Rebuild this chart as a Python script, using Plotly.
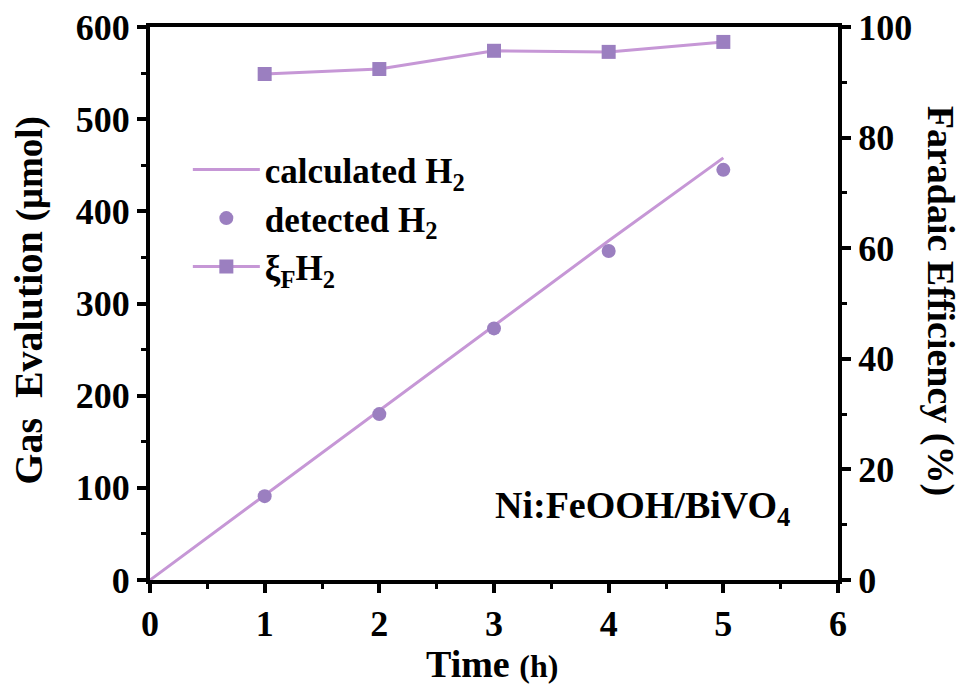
import plotly.graph_objects as go

# Time points (h)
time_calc = [0, 1, 2, 3, 4, 5]
time_meas = [1, 2, 3, 4, 5]

# Gas evolution (umol)
calculated_h2 = [0, 92, 184, 276, 368, 458]
detected_h2 = [91, 180, 273, 357, 445]

# Faradaic efficiency (%)
faradaic_eff = [91.5, 92.4, 95.7, 95.5, 97.3]

FONT = "Liberation Serif"
LINE_C = "#c697d6"
MARK_C = "#9b7fc0"

fig = go.Figure()

fig.add_trace(go.Scatter(
    x=time_calc, y=calculated_h2, mode="lines",
    name="calculated H<sub>2</sub>",
    line=dict(color=LINE_C, width=3),
))
fig.add_trace(go.Scatter(
    x=time_meas, y=detected_h2, mode="markers",
    name="detected H<sub>2</sub>",
    marker=dict(color=MARK_C, size=14, symbol="circle"),
))
fig.add_trace(go.Scatter(
    x=time_meas, y=faradaic_eff, mode="lines+markers",
    name="ξ<sub>F</sub>H<sub>2</sub>", yaxis="y2",
    line=dict(color=LINE_C, width=3),
    marker=dict(color=MARK_C, size=14, symbol="square"),
))

tick_font = dict(family=FONT, size=36, color="black", weight="bold")
title_font = dict(family=FONT, size=38, color="black", weight="bold")

common = dict(
    tickfont=tick_font, showline=True, linecolor="black", linewidth=4,
    ticks="outside", ticklen=9, tickwidth=4, tickcolor="black",
    showgrid=False, zeroline=False, automargin=False,
)

fig.update_layout(
    width=963, height=686,
    margin=dict(l=150, r=125, t=27, b=106),
    paper_bgcolor="white", plot_bgcolor="white",
    font=dict(family=FONT, color="black"),
    showlegend=True,
    legend=dict(
        x=0.055, y=0.795, xanchor="left", yanchor="top",
        bgcolor="rgba(0,0,0,0)",
        font=dict(family=FONT, size=35, color="black", weight="bold"),
        itemwidth=67, tracegroupgap=0,
    ),
    xaxis=dict(
        range=[0, 6], dtick=1, mirror=True,
        minor=dict(dtick=0.5, ticks="outside", ticklen=5, tickwidth=3, tickcolor="black"),
        **common,
    ),
    yaxis=dict(
        range=[0, 600], dtick=100,
        minor=dict(dtick=50, ticks="outside", ticklen=5, tickwidth=3, tickcolor="black"),
        **common,
    ),
    yaxis2=dict(
        range=[0, 100], dtick=20, overlaying="y", side="right",
        minor=dict(dtick=10, ticks="outside", ticklen=5, tickwidth=3, tickcolor="black"),
        **common,
    ),
    annotations=[
        dict(text="Gas  Evalution <span style='font-size:37px'>(μmol)</span>",
             textangle=-90, xref="paper", yref="paper", x=0, y=0.505,
             xanchor="center", yanchor="middle",
             xshift=-121, showarrow=False,
             font=dict(family=FONT, size=40, color="black", weight="bold")),
        dict(text="Faradaic Efficiency (%)", textangle=90,
             xref="paper", yref="paper", x=1.0, y=0.505,
             xanchor="center", yanchor="middle",
             xshift=102, showarrow=False, font=title_font),
        dict(text="Time <span style='font-size:32px'>(h)</span>",
             xref="paper", yref="paper", x=0.497, y=0,
             xanchor="center", yanchor="middle",
             yshift=-84, showarrow=False, font=title_font),
        dict(text="Ni:FeOOH/BiVO<sub>4</sub>",
             xref="x", yref="y", x=2.99, y=78, xanchor="left",
             showarrow=False, font=title_font),
    ],
)

fig.write_html("out.html")
